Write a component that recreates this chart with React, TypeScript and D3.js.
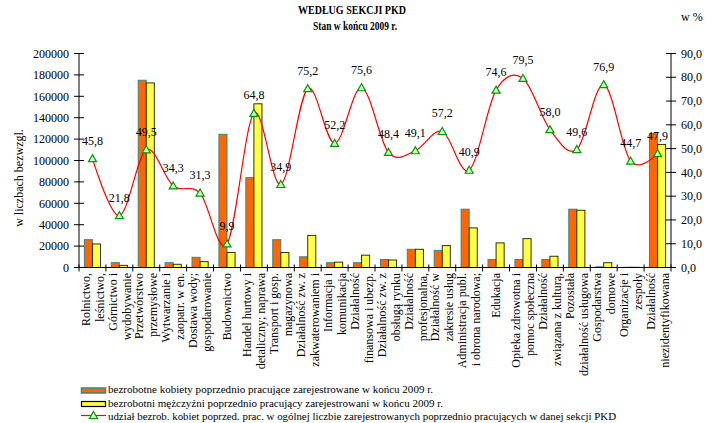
import React from 'react';
import * as d3 from 'd3';

const categoryLine1 = ['Rolnictwo,', 'Górnictwo i', 'Przetwórstwo', 'Wytwarzanie i', 'Dostawa wody;', 'Budownictwo', 'Handel hurtowy i', 'Transport i gosp.', 'Działalność zw. z', 'Informacja i', 'Działalność', 'Działalność  zw. z', 'Działalność', 'Działalność w', 'Administracja publ.', 'Edukacja', 'Opieka zdrowotna i', 'Działalność', 'Pozostała', 'Gospodarstwa', 'Organizacje i', 'Działalność'];
const categoryLine2 = ['leśnictwo,', 'wydobywanie', 'przemysłowe', 'zaopatr. w en.', 'gospodarowanie', '', 'detaliczny; naprawa', 'magazynowa', 'zakwaterowaniem i', 'komunikacja', 'finansowa i ubezp.', 'obsługą rynku', 'profesjonalna,', 'zakresie usług', 'i obrona narodowa;', '', 'pomoc społeczna', 'związana z kulturą,', 'działalność usługowa', 'domowe', 'zespoły', 'niezidentyfikowana'];

const women = [26000, 4500, 175000, 4500, 9500, 124500, 84000, 26000, 10000, 4500, 4500, 7500, 17000, 16000, 54500, 7500, 7500, 7500, 54500, 600, 200, 125000];
const men = [22000, 2000, 172500, 3000, 5500, 14000, 153000, 14000, 30000, 5000, 11500, 7000, 17000, 20500, 37000, 23000, 27000, 10500, 53500, 4500, 200, 115000];
const womenShare = [45.8, 21.8, 49.5, 34.3, 31.3, 9.9, 64.8, 34.9, 75.2, 52.2, 75.6, 48.4, 49.1, 57.2, 40.9, 74.6, 79.5, 58.0, 49.6, 76.9, 44.7, 47.9];

const leftTicks = [0, 20000, 40000, 60000, 80000, 100000, 120000, 140000, 160000, 180000, 200000];
const rightTicks = [0, 10, 20, 30, 40, 50, 60, 70, 80, 90];

const legendLabels = [
  'bezrobotne kobiety poprzednio pracujące zarejestrowane w końcu 2009 r.',
  'bezrobotni mężczyźni poprzednio pracujący zarejestrowani w końcu 2009 r.',
  'udział bezrob. kobiet poprzed. prac. w ogólnej liczbie zarejestrowanych poprzednio pracujących w danej sekcji PKD',
];

const FONT = "'Liberation Serif', 'DejaVu Serif', serif";

export default function App() {
  const W = 707, H = 423;
  const left = 79, right = 671, top = 53.5, bottom = 267.5;
  const idx = categoryLine1.map((_, i) => i);
  const x = d3.scaleBand<number>().domain(idx).range([left, right]).padding(0);
  const bw = x.bandwidth();
  const xs = d3.scaleBand<string>().domain(['k', 'm']).range([bw * 0.2, bw * 0.8]).padding(0);
  const yL = d3.scaleLinear().domain([0, 200000]).range([bottom, top]);
  const yR = d3.scaleLinear().domain([0, 90]).range([bottom, top]);
  const cx = (i: number) => (x(i) as number) + bw / 2;

  const line = d3.line<number>()
    .x((_, i) => cx(i))
    .y((d) => yR(d))
    .curve(d3.curveCardinal.tension(0));

  const tri = (px: number, py: number) => `M${px},${py - 4}L${px + 4},${py + 3}L${px - 4},${py + 3}Z`;
  const fmtR = (v: number) => v.toFixed(1).replace('.', ',');

  return (
    <svg width={W} height={H} style={{ position: 'absolute', left: 0, top: 0, background: '#fff', fontFamily: FONT }}>
      {/* titles */}
      <text x={352} y={14} textAnchor="middle" fontWeight="bold" fontSize={13} textLength={108} lengthAdjust="spacingAndGlyphs">WEDŁUG SEKCJI PKD</text>
      <text x={355} y={30} textAnchor="middle" fontWeight="bold" fontSize={13} textLength={84} lengthAdjust="spacingAndGlyphs">Stan w końcu 2009 r.</text>
      <text x={681} y={21} fontSize={12}>w %</text>
      <text transform={`translate(23,178) rotate(-90)`} textAnchor="middle" fontSize={12}>w liczbach bezwzgl.</text>

      {/* bars */}
      {idx.map((i) => (
        <g key={i}>
          <rect x={(x(i) as number) + (xs('k') as number)} y={yL(women[i])} width={xs.bandwidth()} height={bottom - yL(women[i])}
            fill="#FF6600" stroke="#2E8A8A" strokeWidth={1} />
          <rect x={(x(i) as number) + (xs('m') as number)} y={yL(men[i])} width={xs.bandwidth()} height={bottom - yL(men[i])}
            fill="#FFFF44" stroke="#333300" strokeWidth={1} />
        </g>
      ))}

      {/* axes */}
      <line x1={left} x2={left} y1={top} y2={bottom} stroke="#000" />
      <line x1={right} x2={right} y1={top} y2={bottom} stroke="#000" />
      <line x1={left} x2={right} y1={bottom} y2={bottom} stroke="#000" />
      {leftTicks.map((t) => (
        <g key={'l' + t}>
          <line x1={left - 5} x2={left + 5} y1={yL(t)} y2={yL(t)} stroke="#000" />
          <text x={69} y={yL(t)} dy="0.35em" textAnchor="end" fontSize={12}>{t}</text>
        </g>
      ))}
      {rightTicks.map((t) => (
        <g key={'r' + t}>
          <line x1={right - 5} x2={right + 5} y1={yR(t)} y2={yR(t)} stroke="#000" />
          <text x={681} y={yR(t)} dy="0.35em" fontSize={12}>{fmtR(t)}</text>
        </g>
      ))}
      {[...idx, idx.length].map((i) => {
        const px = i < idx.length ? (x(i) as number) : right;
        return <line key={'xt' + i} x1={px} x2={px} y1={bottom - 3} y2={bottom + 4} stroke="#000" />;
      })}

      {/* x labels */}
      {idx.map((i) => {
        const c = cx(i);
        const two = categoryLine2[i] !== '';
        return (
          <g key={'xl' + i} fontSize={12}>
            <text transform={`translate(${two ? c - 7 : c},273) rotate(-90)`} textAnchor="end" dy="0.35em">{categoryLine1[i]}</text>
            {two && <text transform={`translate(${c + 7},273) rotate(-90)`} textAnchor="end" dy="0.35em">{categoryLine2[i]}</text>}
          </g>
        );
      })}

      {/* line */}
      <path d={line(womenShare) || ''} fill="none" stroke="#FF0000" strokeWidth={1.2} />
      {womenShare.map((v, i) => (
        <g key={'p' + i}>
          <path d={tri(cx(i), yR(v))} fill="#CCFFCC" stroke="#009900" strokeWidth={1.2} />
          <text x={cx(i)} y={yR(v) - 14} textAnchor="middle" fontSize={12}>{fmtR(v)}</text>
        </g>
      ))}

      {/* legend */}
      <rect x={81.5} y={388} width={24} height={5} fill="#FF6600" stroke="#2E8A8A" strokeWidth={1.5} />
      <text x={108} y={393} fontSize={11} textLength={325} lengthAdjust="spacingAndGlyphs">{legendLabels[0]}</text>
      <rect x={81.5} y={401.5} width={24} height={5} fill="#FFFF44" stroke="#000" strokeWidth={1.2} />
      <text x={108} y={407} fontSize={11} textLength={335} lengthAdjust="spacingAndGlyphs">{legendLabels[1]}</text>
      <line x1={81} x2={106} y1={415.5} y2={415.5} stroke="#FF0000" strokeWidth={1.2} />
      <path d={tri(93.5, 415.5)} fill="#CCFFCC" stroke="#009900" strokeWidth={1.2} />
      <text x={108} y={420} fontSize={11} textLength={508} lengthAdjust="spacingAndGlyphs">{legendLabels[2]}</text>
    </svg>
  );
}
